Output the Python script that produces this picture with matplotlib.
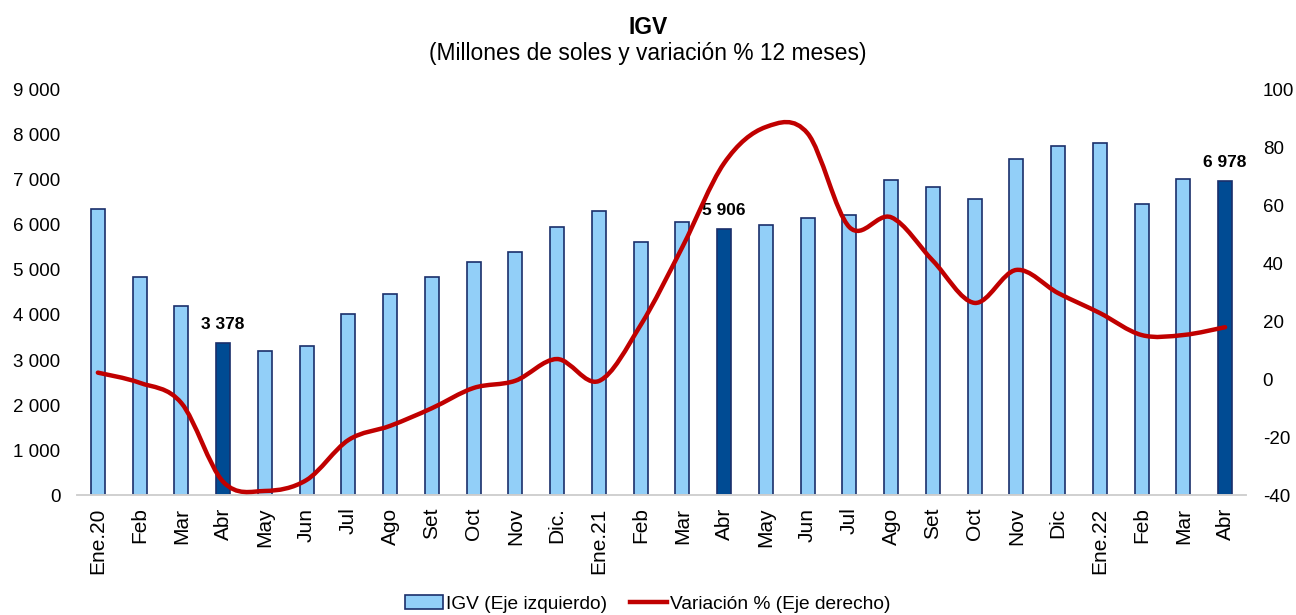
import matplotlib
matplotlib.use("Agg")
import matplotlib.pyplot as plt
from matplotlib.path import Path
from matplotlib.patches import PathPatch, Patch
from matplotlib.lines import Line2D
from matplotlib.ticker import FuncFormatter
import numpy as np

plt.rcParams['font.family'] = ['Liberation Sans', 'DejaVu Sans']
plt.rcParams['axes.unicode_minus'] = False

# Data
meses = ["Ene.20", "Feb", "Mar", "Abr", "May", "Jun", "Jul", "Ago", "Set",
         "Oct", "Nov", "Dic.", "Ene.21", "Feb", "Mar", "Abr", "May", "Jun",
         "Jul", "Ago", "Set", "Oct", "Nov", "Dic", "Ene.22", "Feb", "Mar", "Abr"]
igv = [6360, 4850, 4200, 3378, 3200, 3300, 4020, 4470, 4840,
       5180, 5400, 5960, 6320, 5620, 6070, 5906, 6000, 6160,
       6220, 7000, 6840, 6570, 7470, 7750, 7820, 6470, 7020, 6978]
variacion = [2.3, -1.2, -8.2, -35.4, -38.6, -34.8, -21.0, -16.1, -10.0,
             -3.0, -0.5, 7.0, -0.6, 18.7, 45.7, 74.7, 87.2, 85.0,
             52.6, 56.0, 41.0, 26.4, 37.8, 29.8, 22.9, 15.3, 15.3, 18.0]
destacados = [3, 15, 27]

C_LIGHT = "#92CFF8"
C_DARK = "#004B93"
C_EDGE = "#1A2F6B"
C_LINE = "#C00000"


def fmt_miles(v, pos=None):
    return "{:,.0f}".format(v).replace(",", " ")


fig = plt.figure(figsize=(12.96, 6.15), dpi=100)
ax = fig.add_axes([0.0594, 0.1951, 0.902, 0.6586])
ax2 = ax.twinx()

x = np.arange(len(meses))
colores = [C_DARK if i in destacados else C_LIGHT for i in x]
ax.bar(x, igv, width=0.34, color=colores, edgecolor=C_EDGE, linewidth=1.2, zorder=2)

for i in destacados:
    ax.text(x[i], igv[i] + 250, fmt_miles(igv[i]), ha="center", va="bottom",
            fontsize=12.5, fontweight="bold")

ax.set_xlim(-0.5, len(meses) - 0.5)
ax.set_ylim(0, 9000)
ax.set_yticks(np.arange(0, 9001, 1000))
ax.yaxis.set_major_formatter(FuncFormatter(fmt_miles))
ax.set_xticks(x)
ax.set_xticklabels(meses, rotation=90, fontsize=15)
ax.tick_params(axis="y", labelsize=13.5, length=0, pad=12)
ax.tick_params(axis="x", length=0, pad=9)

# smoothed line (Excel style bezier through the data points)
pts = np.column_stack([x, variacion]).astype(float)
verts = [pts[0]]
codes = [Path.MOVETO]
n = len(pts)
for i in range(n - 1):
    p0 = pts[i - 1] if i > 0 else pts[i]
    p1 = pts[i]
    p2 = pts[i + 1]
    p3 = pts[i + 2] if i + 2 < n else pts[i + 1]
    c1 = p1 + (p2 - p0) / 6.0
    c2 = p2 - (p3 - p1) / 6.0
    verts += [c1, c2, p2]
    codes += [Path.CURVE4] * 3
ax2.add_patch(PathPatch(Path(verts, codes), facecolor="none", edgecolor=C_LINE,
                        linewidth=3.2, capstyle="round", zorder=3))
ax2.set_ylim(-40, 100)
ax2.set_yticks(np.arange(-40, 101, 20))
ax2.tick_params(axis="y", labelsize=13.5, length=0, pad=12)

for a in (ax, ax2):
    for s in ("top", "left", "right"):
        a.spines[s].set_visible(False)
    a.spines["bottom"].set_color("#D0D0D0")
    a.spines["bottom"].set_linewidth(1.2)

fig.text(0.5, 0.955, "IGV", ha="center", va="center", fontsize=16.5, fontweight="bold")
fig.text(0.5, 0.913, "(Millones de soles y variación % 12 meses)", ha="center",
         va="center", fontsize=16.4)

handles = [Patch(facecolor=C_LIGHT, edgecolor=C_EDGE, linewidth=1.2),
           Line2D([0], [0], color=C_LINE, linewidth=3.2)]
fig.legend(handles, ["IGV (Eje izquierdo)", "Variación % (Eje derecho)"],
           loc="center", bbox_to_anchor=(0.5, 0.018), ncol=2, frameon=False,
           fontsize=13.8, handlelength=1.95, handleheight=0.7, handletextpad=0.15,
           columnspacing=1.2)

fig.savefig("out.png", dpi=100)
plt.close()
